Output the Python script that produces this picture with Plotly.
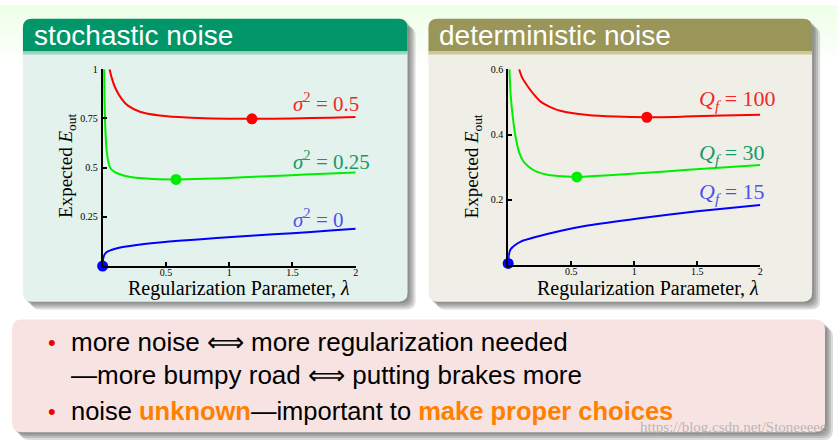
import plotly.graph_objects as go

W, H = 840, 446

# ---------------- data ----------------
# stochastic noise panel
stoch_red_lambda = [0.055, 0.07, 0.1, 0.15, 0.2, 0.3, 0.45, 0.6, 0.8, 1.0, 1.2, 1.5, 1.8, 2.0]
stoch_red_E = [1.0, 0.96, 0.905, 0.85, 0.815, 0.783, 0.765, 0.757, 0.751, 0.749, 0.748, 0.750, 0.754, 0.757]
stoch_green_lambda = [0.012, 0.015, 0.02, 0.03, 0.045, 0.06, 0.09, 0.13, 0.2, 0.29, 0.4, 0.58, 0.8, 1.0, 1.3, 1.6, 2.0]
stoch_green_E = [1.0, 0.85, 0.72, 0.6, 0.53, 0.5, 0.48, 0.468, 0.455, 0.447, 0.442, 0.44, 0.443, 0.448, 0.456, 0.465, 0.475]
stoch_blue_lambda = [0.0, 0.005, 0.015, 0.03, 0.06, 0.1, 0.16, 0.3, 0.45, 0.6, 0.9, 1.2, 1.5, 1.8, 2.0]
stoch_blue_E = [0.0, 0.04, 0.058, 0.07, 0.08, 0.088, 0.097, 0.11, 0.12, 0.128, 0.142, 0.155, 0.167, 0.18, 0.19]
stoch_min_lambda = [1.18, 0.58, 0.0]
stoch_min_E = [0.748, 0.44, 0.0]
stoch_labels = ["<i>σ</i><sup>2</sup> = 0.5", "<i>σ</i><sup>2</sup> = 0.25", "<i>σ</i><sup>2</sup> = 0"]
stoch_yticks = [0.25, 0.5, 0.75, 1]
stoch_yticklabels = ["0.25", "0.5", "0.75", "1"]

# deterministic noise panel
det_red_lambda = [0.087, 0.11, 0.16, 0.21, 0.26, 0.33, 0.42, 0.63, 0.85, 1.1, 1.4, 1.7, 2.0]
det_red_E = [0.6, 0.575, 0.545, 0.52, 0.5, 0.485, 0.472, 0.46, 0.455, 0.453, 0.455, 0.458, 0.461]
det_green_lambda = [0.01, 0.02, 0.04, 0.065, 0.09, 0.12, 0.16, 0.22, 0.32, 0.545, 0.8, 1.1, 1.4, 1.7, 2.0]
det_green_E = [0.6, 0.52, 0.443, 0.38, 0.342, 0.318, 0.302, 0.287, 0.276, 0.27, 0.275, 0.283, 0.291, 0.299, 0.307]
det_blue_lambda = [0.0, 0.005, 0.015, 0.03, 0.05, 0.1, 0.21, 0.42, 0.63, 1.03, 1.5, 2.0]
det_blue_E = [0.005, 0.03, 0.045, 0.053, 0.06, 0.072, 0.085, 0.105, 0.121, 0.143, 0.165, 0.184]
det_min_lambda = [1.1, 0.545, 0.0]
det_min_E = [0.453, 0.27, 0.005]
det_labels = ["<i>Q<sub>f</sub></i> = 100", "<i>Q<sub>f</sub></i> = 30", "<i>Q<sub>f</sub></i> = 15"]
det_yticks = [0.2, 0.4, 0.6]
det_yticklabels = ["0.2", "0.4", "0.6"]

xticks = [0.5, 1, 1.5, 2]
xticklabels = ["0.5", "1", "1.5", "2"]

panel_titles = ["stochastic noise", "deterministic noise"]
bullet_lines = [
    "more noise ⟺ more regularization needed",
    "—more bumpy road ⟺ putting brakes more",
    "noise <span style='color:#ff8000'><b>unknown</b></span>—important to <span style='color:#ff8000'><b>make proper choices</b></span>",
]
bullet_sizes = [26, 26, 25.5]
watermark = "https://blog.csdn.net/Stoneeeee"

# ---------------- helpers ----------------
def X(px):
    return px / W


def Y(py):
    return 1 - py / H


def rrect(x0, y0, x1, y1, r, top=True, bottom=True):
    rt = r if top else 0
    rb = r if bottom else 0
    pts = []
    pts.append(f"M {X(x0 + rt)},{Y(y0)}")
    pts.append(f"L {X(x1 - rt)},{Y(y0)}")
    if rt:
        pts.append(f"Q {X(x1)},{Y(y0)} {X(x1)},{Y(y0 + rt)}")
    pts.append(f"L {X(x1)},{Y(y1 - rb)}")
    if rb:
        pts.append(f"Q {X(x1)},{Y(y1)} {X(x1 - rb)},{Y(y1)}")
    pts.append(f"L {X(x0 + rb)},{Y(y1)}")
    if rb:
        pts.append(f"Q {X(x0)},{Y(y1)} {X(x0)},{Y(y1 - rb)}")
    pts.append(f"L {X(x0)},{Y(y0 + rt)}")
    if rt:
        pts.append(f"Q {X(x0)},{Y(y0)} {X(x0 + rt)},{Y(y0)}")
    pts.append("Z")
    return " ".join(pts)


shapes = []


def add_path(path, color):
    shapes.append(dict(type="path", xref="paper", yref="paper", path=path,
                       fillcolor=color, line=dict(width=0), layer="below"))


# top background gradient
for i in range(12):
    t = i / 12
    g = int(238 + (255 - 238) * t)
    shapes.append(dict(type="rect", xref="paper", yref="paper",
                       x0=0, x1=1, y0=Y(i * 5 + 5), y1=Y(i * 5),
                       fillcolor=f"rgb({g},255,{int(232 + 23 * t)})",
                       line=dict(width=0), layer="below"))


def shadow(x0, y0, x1, y1, r):
    for d in [8, 6, 4, 2]:
        add_path(rrect(x0 + d, y0 + d, x1 + d, y1 + d, r), "rgba(40,40,40,0.16)")


# panels
panels = [
    dict(x0=23, x1=409, title_col="#009669", strip_col="#9fd4bf", body_col="#e3f2ec"),
    dict(x0=430, x1=815, title_col="#9a9558", strip_col="#cbc89a", body_col="#f0efe7"),
]
for p in panels:
    shadow(p["x0"], 14, p["x1"], 300, 9)
    add_path(rrect(p["x0"], 14, p["x1"], 300, 9), p["body_col"])
    add_path(rrect(p["x0"], 14, p["x1"], 47, 9, bottom=False), p["title_col"])
    shapes.append(dict(type="rect", xref="paper", yref="paper",
                       x0=X(p["x0"]), x1=X(p["x1"]), y0=Y(50), y1=Y(47),
                       fillcolor=p["strip_col"], line=dict(width=0), layer="below"))

# bottom box
shadow(12, 318, 828, 432, 10)
add_path(rrect(12, 318, 828, 432, 10), "#f8e3e3")

# ---------------- figure ----------------
fig = go.Figure()

RED, GREEN, BLUE = "#ff0000", "#00ee00", "#0000ff"
line_w = 2

for xs, ys, col in [(stoch_red_lambda, stoch_red_E, RED),
                    (stoch_green_lambda, stoch_green_E, GREEN),
                    (stoch_blue_lambda, stoch_blue_E, BLUE)]:
    fig.add_trace(go.Scatter(x=xs, y=ys, mode="lines", line=dict(color=col, width=line_w, shape="spline", smoothing=0.6),
                             xaxis="x", yaxis="y", cliponaxis=False, showlegend=False, hoverinfo="skip"))
fig.add_trace(go.Scatter(x=stoch_min_lambda, y=stoch_min_E, mode="markers",
                         marker=dict(color=[RED, GREEN, BLUE], size=11),
                         xaxis="x", yaxis="y", cliponaxis=False, showlegend=False, hoverinfo="skip"))

for xs, ys, col in [(det_red_lambda, det_red_E, RED),
                    (det_green_lambda, det_green_E, GREEN),
                    (det_blue_lambda, det_blue_E, BLUE)]:
    fig.add_trace(go.Scatter(x=xs, y=ys, mode="lines", line=dict(color=col, width=line_w, shape="spline", smoothing=0.6),
                             xaxis="x2", yaxis="y2", cliponaxis=False, showlegend=False, hoverinfo="skip"))
fig.add_trace(go.Scatter(x=det_min_lambda, y=det_min_E, mode="markers",
                         marker=dict(color=[RED, GREEN, BLUE], size=11),
                         xaxis="x2", yaxis="y2", cliponaxis=False, showlegend=False, hoverinfo="skip"))

SERIF = "Liberation Serif"
tickfont = dict(family=SERIF, size=10, color="black")


def xaxis_cfg(domain):
    return dict(domain=domain, range=[0, 2], showgrid=False, zeroline=False,
                showline=True, linecolor="black", linewidth=2,
                ticks="inside", ticklen=4, tickwidth=1.5, tickcolor="black",
                tickvals=xticks, ticktext=xticklabels, tickfont=tickfont,
                ticklabelstandoff=-4, fixedrange=True)


def yaxis_cfg(domain, rng, tv, tt, anchor):
    return dict(domain=domain, range=rng, showgrid=False, zeroline=False,
                showline=True, linecolor="black", linewidth=2,
                ticks="inside", ticklen=4, tickwidth=1.5, tickcolor="black",
                tickvals=tv, ticktext=tt, tickfont=tickfont, anchor=anchor,
                ticklabelstandoff=1, fixedrange=True)


annotations = []
# panel titles
for p, t in zip(panels, panel_titles):
    annotations.append(dict(text=t, xref="paper", yref="paper", x=X(p["x0"] + 9), y=Y(31),
                            xanchor="left", yanchor="middle", showarrow=False,
                            font=dict(family="Liberation Sans", size=28, color="white")))

# axis titles
for xc, yc in [(240, 287), (650, 287)]:
    annotations.append(dict(text="Regularization Parameter, <i>λ</i>", xref="paper", yref="paper",
                            x=X(xc), y=Y(yc), xanchor="center", yanchor="middle", showarrow=False,
                            font=dict(family=SERIF, size=20, color="black")))
for xc, yc in [(67, 163), (475, 163)]:
    annotations.append(dict(text="Expected <i>E</i><sub>out</sub>", xref="paper", yref="paper",
                            x=X(xc), y=Y(yc), xanchor="center", yanchor="middle", showarrow=False,
                            textangle=-90, font=dict(family=SERIF, size=19, color="black")))

label_cols = ["#f02828", "#169a6a", "#5050f0"]
for txt, col, yc in zip(stoch_labels, label_cols, [99, 157, 216]):
    annotations.append(dict(text=txt, xref="paper", yref="paper", x=X(292), y=Y(yc),
                            xanchor="left", yanchor="middle", showarrow=False,
                            font=dict(family=SERIF, size=21, color=col)))
for txt, col, yc in zip(det_labels, label_cols, [96, 151, 190]):
    annotations.append(dict(text=txt, xref="paper", yref="paper", x=X(699), y=Y(yc),
                            xanchor="left", yanchor="middle", showarrow=False,
                            font=dict(family=SERIF, size=22, color=col)))

# bullets and text
for yc in [341, 411]:
    annotations.append(dict(text="•", xref="paper", yref="paper", x=X(52), y=Y(yc),
                            xanchor="center", yanchor="middle", showarrow=False,
                            font=dict(family="Liberation Sans", size=22, color="#ee0000")))
for txt, yc, fs in zip(bullet_lines, [341, 374, 411], bullet_sizes):
    annotations.append(dict(text=txt, xref="paper", yref="paper", x=X(69), y=Y(yc),
                            xanchor="left", yanchor="middle", showarrow=False,
                            font=dict(family="Liberation Sans", size=fs, color="black")))

annotations.append(dict(text=watermark, xref="paper", yref="paper", x=X(832), y=Y(427),
                        xanchor="right", yanchor="middle", showarrow=False,
                        font=dict(family=SERIF, size=15, color="rgba(170,170,170,0.8)")))

fig.update_layout(
    width=W, height=H, margin=dict(l=0, r=0, t=0, b=0),
    paper_bgcolor="white", plot_bgcolor="rgba(0,0,0,0)",
    xaxis=xaxis_cfg([X(103), X(357)]) | dict(anchor="y"),
    yaxis=yaxis_cfg([Y(264), Y(65)], [0, 1], stoch_yticks, stoch_yticklabels, "x"),
    xaxis2=xaxis_cfg([X(510), X(763)]) | dict(anchor="y2"),
    yaxis2=yaxis_cfg([Y(263), Y(65)], [0, 0.6], det_yticks, det_yticklabels, "x2"),
    shapes=shapes, annotations=annotations, showlegend=False,
)

fig.write_html("out.html")
